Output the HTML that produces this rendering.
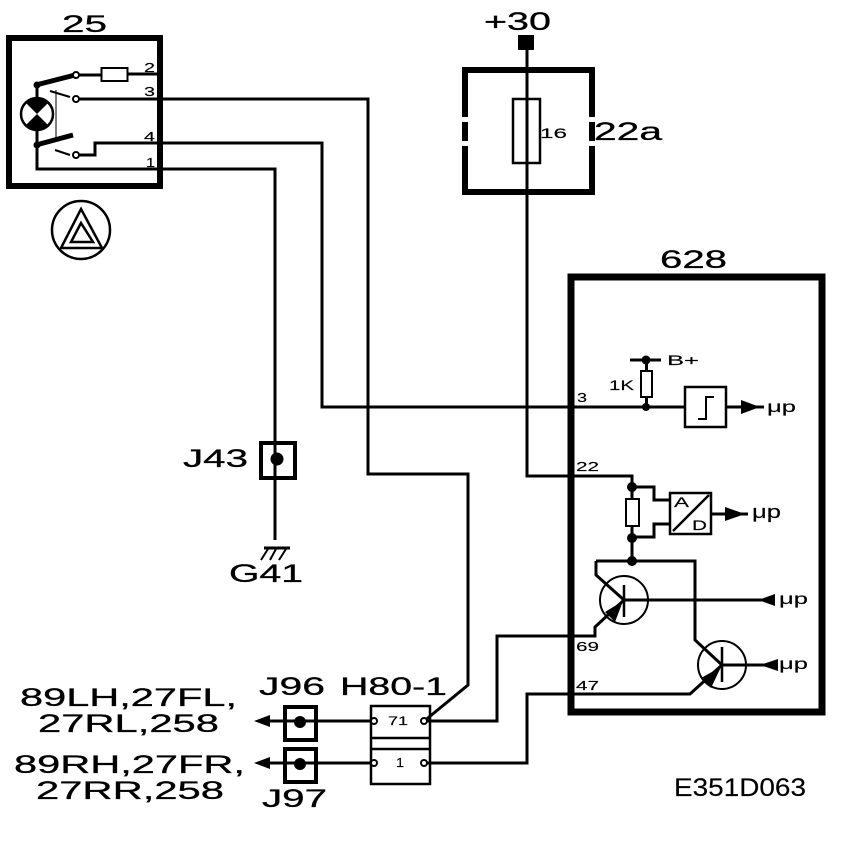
<!DOCTYPE html>
<html><head><meta charset="utf-8"><style>
html,body{margin:0;padding:0;background:#fff}
svg{display:block}
text{font-family:"Liberation Sans",sans-serif;fill:#000;stroke:#000;stroke-width:.3}
.s{stroke-width:.15}
.w{fill:none;stroke:#000;stroke-width:3}
.c{fill:#fff;stroke:#000;stroke-width:2}
</style></head><body>
<svg width="864" height="842" viewBox="0 0 864 842" xmlns="http://www.w3.org/2000/svg">
<rect width="864" height="842" fill="#fff"/>
<!-- wires -->
<path class="w" d="M76 99H368V474H468V685L423 722"/>
<path class="w" d="M76 155H95V143H322V407H685"/>
<path class="w" d="M37 145V169H275V540"/>
<path class="w" d="M527 40V476H632V561"/>
<path class="w" d="M423 721H497V636H595V627L624 600"/>
<path class="w" d="M423 763H527V694H690L722 665"/>
<path class="w" d="M596 561V575L624 600M596 561H695V640L722 665"/>
<path class="w" d="M374 721H260M374 763H260"/>
<!-- box 25 -->
<rect x="9" y="38" width="151" height="148" fill="none" stroke="#000" stroke-width="6"/>
<path class="w" d="M79 75H101M128 74H157"/>
<rect x="101.500" y="68" width="26" height="13" class="c"/>
<path d="M36 85L75 75M36 145L73 135" stroke="#000" stroke-width="5" fill="none"/>
<path d="M37 85V98M37 130V145" stroke="#000" stroke-width="3"/>
<path d="M50 91L70 97M55 150L70 155" stroke="#000" stroke-width="2"/>
<path d="M56 90V140" stroke="#000" stroke-width="1"/>
<circle cx="37" cy="85" r="3.500"/><circle cx="37" cy="145" r="3.500"/>
<circle cx="37" cy="114" r="16" fill="#fff" stroke="#000" stroke-width="2.500"/>
<path d="M26 103A16 16 0 0 1 48 103L37 114ZM26 125A16 16 0 0 0 48 125L37 114Z"/>
<circle cx="76" cy="75" r="3" class="c"/><circle cx="76" cy="99" r="3" class="c"/><circle cx="76" cy="155" r="3" class="c"/>
<!-- hazard symbol -->
<circle cx="81" cy="230" r="29" fill="none" stroke="#000" stroke-width="2.500"/>
<path d="M81 209L102 248H61Z" fill="none" stroke="#000" stroke-width="2.500"/>
<path d="M81 223L93 242H71Z" fill="none" stroke="#000" stroke-width="2.500"/>
<!-- fuse box -->
<rect x="518" y="35" width="16" height="15"/>
<path d="M465 117V70H592V117M465 146V192H592V146M465 122V141M592 122V141" fill="none" stroke="#000" stroke-width="6"/>
<rect x="513" y="99" width="27" height="64" fill="none" stroke="#000" stroke-width="2.500"/>
<!-- block 628 -->
<rect x="571" y="277" width="251" height="435" fill="none" stroke="#000" stroke-width="7"/>
<path class="w" d="M630 360H661M646.500 360V407"/>
<circle cx="646" cy="360" r="4.500"/><circle cx="646" cy="407" r="4"/>
<rect x="641" y="371" width="11" height="26" class="c"/>
<rect x="685" y="387" width="41" height="40" fill="#fff" stroke="#000" stroke-width="2.500"/>
<path d="M698 419H706V397H714" fill="none" stroke="#000" stroke-width="2"/>
<path class="w" d="M727 407H764"/><path d="M741 400L760 407L741 414Z"/>
<path class="w" d="M632 487H654V500H670M632 537H654V524H670M712 514H748"/>
<path d="M725 507L745 514L725 521Z"/>
<circle cx="632" cy="487" r="5"/><circle cx="632" cy="538" r="5"/><circle cx="632" cy="561" r="5"/>
<rect x="626" y="499" width="13" height="27" class="c"/>
<rect x="670" y="493" width="41" height="41" fill="#fff" stroke="#000" stroke-width="2.500"/>
<path d="M673 531L709 495" stroke="#000" stroke-width="2.500"/>
<circle cx="624" cy="600" r="24" fill="none" stroke="#000" stroke-width="2"/>
<circle cx="722" cy="665" r="24" fill="none" stroke="#000" stroke-width="2"/>
<path d="M624 585V617M722 647V682" stroke="#000" stroke-width="2.500"/>
<path class="w" d="M624 600H765M722 665H770"/>
<path d="M775 594V606L758 600ZM778 659V671L760 665Z"/>
<path d="M623 601L615 622L605 612ZM721 667L711 688L701 678Z"/>
<!-- connectors -->
<rect x="261" y="443" width="34" height="35" fill="none" stroke="#000" stroke-width="4"/>
<circle cx="277" cy="459" r="6.500"/>
<path d="M264 548H290" stroke="#000" stroke-width="3"/>
<path d="M268 549L261 560M276 549L270 560M286 549L279 560" stroke="#000" stroke-width="2"/>
<rect x="285" y="707" width="31" height="33" fill="none" stroke="#000" stroke-width="4"/>
<rect x="285" y="749" width="31" height="33" fill="none" stroke="#000" stroke-width="4"/>
<circle cx="300" cy="722" r="6"/><circle cx="300" cy="764" r="6"/>
<path d="M254 721L270 715V727ZM254 763L270 757V769Z"/>
<path d="M371 706H430V784H371ZM371 738H430M371 749H430" fill="none" stroke="#000" stroke-width="2.500"/>
<circle cx="374" cy="721" r="3" class="c"/><circle cx="424" cy="721" r="3" class="c"/>
<circle cx="374" cy="763" r="3" class="c"/><circle cx="424" cy="763" r="3" class="c"/>
<!-- labels -->
<text x="62" y="32" font-size="24" textLength="45" lengthAdjust="spacingAndGlyphs">25</text>
<text x="484" y="30" font-size="25" textLength="67" lengthAdjust="spacingAndGlyphs">+30</text>
<text x="540" y="138" font-size="14" textLength="27" lengthAdjust="spacingAndGlyphs" class="s">16</text>
<text x="594" y="140" font-size="25" textLength="68" lengthAdjust="spacingAndGlyphs">22a</text>
<text x="660" y="268" font-size="25" textLength="67" lengthAdjust="spacingAndGlyphs">628</text>
<text x="183" y="467" font-size="25" textLength="65" lengthAdjust="spacingAndGlyphs">J43</text>
<text x="229" y="582" font-size="25" textLength="74" lengthAdjust="spacingAndGlyphs">G41</text>
<text x="259" y="695" font-size="25" textLength="66" lengthAdjust="spacingAndGlyphs">J96</text>
<text x="340" y="695" font-size="25" textLength="107" lengthAdjust="spacingAndGlyphs">H80-1</text>
<text x="20" y="706" font-size="25" textLength="217" lengthAdjust="spacingAndGlyphs">89LH,27FL,</text>
<text x="38" y="732" font-size="25" textLength="181" lengthAdjust="spacingAndGlyphs">27RL,258</text>
<text x="14" y="773" font-size="25" textLength="231" lengthAdjust="spacingAndGlyphs">89RH,27FR,</text>
<text x="36" y="799" font-size="25" textLength="188" lengthAdjust="spacingAndGlyphs">27RR,258</text>
<text x="262" y="807" font-size="25" textLength="65" lengthAdjust="spacingAndGlyphs">J97</text>
<text x="674" y="796" font-size="25" textLength="132" lengthAdjust="spacingAndGlyphs" class="s">E351D063</text>
<text x="144" y="72" font-size="13" textLength="11" lengthAdjust="spacingAndGlyphs" class="s">2</text>
<text x="144" y="96" font-size="13" textLength="11" lengthAdjust="spacingAndGlyphs" class="s">3</text>
<text x="144" y="141" font-size="13" textLength="11" lengthAdjust="spacingAndGlyphs" class="s">4</text>
<text x="146" y="167" font-size="13" textLength="9" lengthAdjust="spacingAndGlyphs" class="s">1</text>
<text x="577" y="402" font-size="13" textLength="10" lengthAdjust="spacingAndGlyphs" class="s">3</text>
<text x="576" y="471" font-size="13" textLength="23" lengthAdjust="spacingAndGlyphs" class="s">22</text>
<text x="576" y="651" font-size="13" textLength="23" lengthAdjust="spacingAndGlyphs" class="s">69</text>
<text x="576" y="690" font-size="13" textLength="23" lengthAdjust="spacingAndGlyphs" class="s">47</text>
<text x="609" y="390" font-size="14" textLength="25" lengthAdjust="spacingAndGlyphs" class="s">1K</text>
<text x="667" y="365" font-size="14" textLength="32" lengthAdjust="spacingAndGlyphs" class="s">B+</text>
<text x="674" y="507" font-size="14" textLength="15" lengthAdjust="spacingAndGlyphs" class="s">A</text>
<text x="692" y="530" font-size="14" textLength="15" lengthAdjust="spacingAndGlyphs" class="s">D</text>
<text x="767" y="412" font-size="16" textLength="29" lengthAdjust="spacingAndGlyphs" class="s">μp</text>
<text x="752" y="518" font-size="18" textLength="29" lengthAdjust="spacingAndGlyphs" class="s">μp</text>
<text x="779" y="604" font-size="16" textLength="29" lengthAdjust="spacingAndGlyphs" class="s">μp</text>
<text x="779" y="669" font-size="16" textLength="29" lengthAdjust="spacingAndGlyphs" class="s">μp</text>
<text x="388" y="725" font-size="12" textLength="20" lengthAdjust="spacingAndGlyphs" class="s">71</text>
<text x="396" y="767" font-size="13" textLength="8" lengthAdjust="spacingAndGlyphs" class="s">1</text>
</svg>
</body></html>
